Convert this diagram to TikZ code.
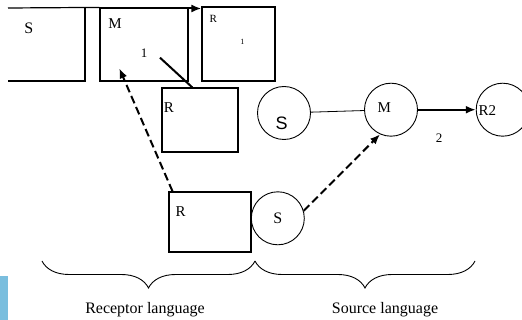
\documentclass[tikz,border=0pt]{standalone}
\usepackage{fontspec}
\setmainfont{Liberation Serif}
\newfontfamily\sansS{Liberation Sans}
\usepackage{tikz}
\usetikzlibrary{arrows.meta,decorations.pathreplacing,calc}
\definecolor{edgeblue}{RGB}{122,190,222}

\newcommand{\ptsize}[1]{\fontsize{#1}{#1}\selectfont}

\begin{document}
\begin{tikzpicture}[x=1pt,y=-1pt,
    box/.style={draw, line width=1.2pt, inner sep=0pt},
    ring/.style={draw, circle, line width=0.9pt, minimum size=53pt, inner sep=0pt},
    tag/.style={inner sep=0pt, font=\ptsize{15}},
    heavy/.style={line width=2pt, -{Latex[length=10pt,width=8pt]}},
    dashline/.style={line width=2pt, dash pattern=on 8pt off 4pt, -{Latex[length=10pt,width=8pt]}},
    curly/.style={decorate, line width=0.9pt, decoration={brace, amplitude=27pt, mirror}}]

    \useasboundingbox (0,0) rectangle (522,320);
    \clip (0,0) rectangle (522,320);

    % Side strip
    \fill[edgeblue] (0,276) rectangle (8.3,320);

    % Boxes
    \foreach \name/\cx/\cy/\w/\h in {mbox/144/44.5/88/73, rone/238.5/44/73/74,
        rmid/200/120/76/64, rbot/210/222/82/60} {
        \node[box, minimum width=\w pt, minimum height=\h pt] (\name) at (\cx,\cy) {};
    }
    % S box, cut off at the left
    \draw[line width=1.2pt] (8,81) -- (85,81) -- (85,8);
    \draw[line width=1.2pt] (8,8) -- (mbox.north west);

    % Circles
    \node[ring] (smid) at (284,113) {};
    \node[ring] (mcirc) at (391,109.7) {};
    \node[ring] (rtwo) at (502.7,109.7) {};
    \node[ring, font=\ptsize{16}] (sbot) at (277.8,218.3) {S};

    % Labels
    \node[tag, font=\ptsize{16}] (stop) at (28.7,28.3) {S};
    \node[tag] (mtop) at (115,23.3) {M};
    \node[tag, font=\ptsize{13}] (mone) at (144,53.3) {1};
    \node[tag, font=\ptsize{11}] (rsmall) at (213.3,19) {R};
    \node[tag, font=\ptsize{8}] (rsub) at (242.3,42.3) {1};
    \node[tag] (rmidtxt) at (169,107.3) {R};
    \node[tag] (rbottxt) at (180.7,211.7) {R};
    \node[tag, font=\sansS\ptsize{18}] (sbig) at (281.7,123.3) {S};
    \node[tag] (mcirctxt) at (384.3,107.7) {M};
    \node[tag] (rtwotxt) at (487.3,111) {R2};
    \node[tag, font=\ptsize{13}] (two) at (439,138.3) {2};

    % Connectors
    \coordinate (topstart) at (160,8.5);
    \draw[heavy] (topstart) -- (rone.west |- topstart);
    \coordinate (mtail) at (160,57.7);
    \draw[line width=2pt] (mtail) -- ($(rmid.north west)!0.4!(rmid.north east)$);
    \coordinate (mtip) at (119.3,68.3);
    \draw[dashline] ($(rbot.north west)!0.05!(rbot.north east)$) -- (mtip);
    \draw[dashline] (sbot.16) -- (mcirc.246);
    \draw[line width=0.8pt] (smid) -- (mcirc);
    \draw[heavy] (mcirc) -- (rtwo);

    % Braces
    \draw[curly] (42,261) -- (255,261);
    \draw[curly] (255,261) -- (475,261);
    \node[tag, font=\ptsize{16}] (recv) at (145,310) {Receptor language};
    \node[tag, font=\ptsize{16}] (srcl) at (385,310) {Source language};
\end{tikzpicture}
\end{document}
